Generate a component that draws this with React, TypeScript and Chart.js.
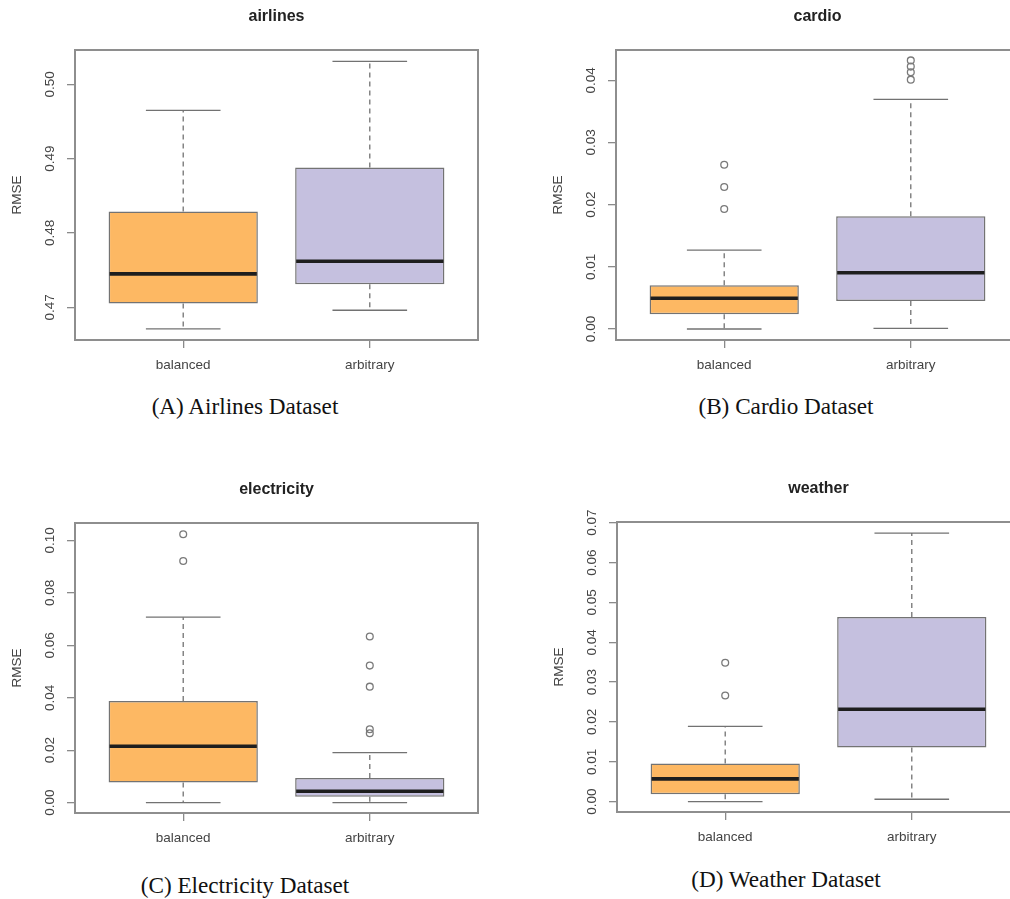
import React, { useEffect, useRef } from 'react';
import { Chart, registerables } from 'chart.js';

Chart.register(...registerables);

// Categories (x axis)
const groups = ['balanced', 'arbitrary'];

// Each stats array: [lower whisker, Q1, median, Q3, upper whisker]
const airlinesBalanced = [0.4671, 0.4705, 0.4745, 0.4829, 0.4965];
const airlinesArbitrary = [0.4696, 0.4731, 0.4762, 0.4888, 0.5031];
const airlinesOutBalanced: number[] = [];
const airlinesOutArbitrary: number[] = [];
const airlinesTicks = [0.47, 0.48, 0.49, 0.5];
const airlinesRange = [0.4656, 0.50462];

const cardioBalanced = [0.0, 0.00236, 0.00494, 0.00703, 0.0127];
const cardioArbitrary = [0.0001, 0.0045, 0.00905, 0.01812, 0.03693];
const cardioOutBalanced = [0.01929, 0.02283, 0.02642];
const cardioOutArbitrary = [0.0401, 0.0413, 0.0422, 0.0432];
const cardioTicks = [0.0, 0.01, 0.02, 0.03, 0.04];
const cardioRange = [-0.00177, 0.04487];

const electricityBalanced = [0.0, 0.00765, 0.02153, 0.03874, 0.07075];
const electricityArbitrary = [0.0, 0.0023, 0.00433, 0.00945, 0.01912];
const electricityOutBalanced = [0.09216, 0.10237];
const electricityOutArbitrary = [0.0265, 0.028, 0.04425, 0.05228, 0.06337];
const electricityTicks = [0.0, 0.02, 0.04, 0.06, 0.08, 0.1];
const electricityRange = [-0.00394, 0.10666];

const weatherBalanced = [0.0, 0.00186, 0.00572, 0.00957, 0.01889];
const weatherArbitrary = [0.0006, 0.0136, 0.02317, 0.04634, 0.06741];
const weatherOutBalanced = [0.02662, 0.03485];
const weatherOutArbitrary: number[] = [];
const weatherTicks = [0.0, 0.01, 0.02, 0.03, 0.04, 0.05, 0.06, 0.07];
const weatherRange = [-0.0026, 0.07018];

const ORANGE = '#FDB863';
const PURPLE = '#C5C0DF';
const SANS = "'Liberation Sans', Arial, Helvetica, sans-serif";
const SERIF = "'Liberation Serif', 'Times New Roman', serif";

type PanelProps = {
  title: string;
  stats: number[][];
  outliers: number[][];
  ticks: number[];
  range: number[];
  left: number;
  top: number;
};

function makePlugin(stats: number[][]) {
  return {
    id: 'boxWhiskers',
    afterDatasetsDraw(chart: any) {
      const { ctx } = chart;
      const x = chart.scales.x;
      const y = chart.scales.y;
      const line = (x1: number, y1: number, x2: number, y2: number) => {
        ctx.beginPath();
        ctx.moveTo(x1, y1);
        ctx.lineTo(x2, y2);
        ctx.stroke();
      };
      ctx.save();
      stats.forEach((s, i) => {
        const c = i + 1;
        const cx = x.getPixelForValue(c);
        const capL = x.getPixelForValue(c - 0.2);
        const capR = x.getPixelForValue(c + 0.2);
        const bL = x.getPixelForValue(c - 0.4);
        const bR = x.getPixelForValue(c + 0.4);
        ctx.strokeStyle = '#727272';
        ctx.lineWidth = 1.3;
        ctx.setLineDash([5, 4]);
        line(cx, y.getPixelForValue(s[3]), cx, y.getPixelForValue(s[4]));
        line(cx, y.getPixelForValue(s[1]), cx, y.getPixelForValue(s[0]));
        ctx.setLineDash([]);
        line(capL, y.getPixelForValue(s[4]), capR, y.getPixelForValue(s[4]));
        line(capL, y.getPixelForValue(s[0]), capR, y.getPixelForValue(s[0]));
        ctx.strokeStyle = '#1e1e1e';
        ctx.lineWidth = 3.6;
        line(bL + 1, y.getPixelForValue(s[2]), bR - 1, y.getPixelForValue(s[2]));
      });
      ctx.restore();
    },
    afterDraw(chart: any) {
      const { ctx, chartArea } = chart;
      ctx.save();
      ctx.strokeStyle = '#8e8e8e';
      ctx.lineWidth = 2;
      ctx.strokeRect(chartArea.left, chartArea.top, chartArea.right - chartArea.left, chartArea.bottom - chartArea.top);
      ctx.restore();
    },
  };
}

function Panel({ title, stats, outliers, ticks, range, left, top }: PanelProps) {
  const ref = useRef<HTMLCanvasElement | null>(null);
  useEffect(() => {
    if (!ref.current) return;
    const boxData = stats.map((s, i) => ({ x: i + 1, y: [s[1], s[3]] }));
    const outData: { x: number; y: number }[] = [];
    outliers.forEach((arr, i) => arr.forEach((v) => outData.push({ x: i + 1, y: v })));
    const chart = new Chart(ref.current, {
      type: 'bar',
      data: {
        datasets: [
          {
            type: 'bar',
            data: boxData as any,
            backgroundColor: [ORANGE, PURPLE],
            borderColor: '#737373',
            borderWidth: 1.5,
            borderSkipped: false,
            categoryPercentage: 0.8,
            barPercentage: 1,
            order: 2,
          } as any,
          {
            type: 'scatter',
            data: outData as any,
            pointStyle: 'circle',
            pointRadius: 3.4,
            borderColor: '#7a7a7a',
            borderWidth: 1.3,
            backgroundColor: 'rgba(0,0,0,0)',
            order: 1,
          } as any,
        ],
      },
      options: {
        animation: false,
        responsive: false,
        maintainAspectRatio: false,
        layout: { padding: { left: 0, right: 27, top: 0, bottom: 0 } },
        plugins: {
          legend: { display: false },
          tooltip: { enabled: false },
          title: {
            display: true,
            text: title,
            fullSize: false,
            color: '#222',
            font: { family: SANS, size: 16, weight: 'bold' },
            padding: { top: 7.4, bottom: 23.4 },
          } as any,
        },
        scales: {
          x: {
            type: 'linear',
            min: 0.42,
            max: 2.58,
            offset: false,
            afterBuildTicks: (s: any) => {
              s.ticks = groups.map((_, i) => ({ value: i + 1 }));
            },
            afterFit: (s: any) => {
              s.height = 40;
            },
            ticks: {
              callback: (v: any) => groups[Math.round(Number(v)) - 1] ?? '',
              color: '#444',
              font: { family: SANS, size: 13.5 },
              padding: 9,
              maxRotation: 0,
              minRotation: 0,
              autoSkip: false,
            },
            grid: { display: true, drawOnChartArea: false, drawTicks: true, tickLength: 8, color: '#8a8a8a', lineWidth: 1.3, offset: false },
            border: { display: false },
          } as any,
          y: {
            type: 'linear',
            min: range[0],
            max: range[1],
            afterBuildTicks: (s: any) => {
              s.ticks = ticks.map((v) => ({ value: v }));
            },
            afterFit: (s: any) => {
              s.width = 75;
            },
            ticks: {
              callback: (v: any) => Number(v).toFixed(2),
              color: '#444',
              font: { family: SANS, size: 13.5 },
              minRotation: 90,
              maxRotation: 90,
              crossAlign: 'center',
              padding: 4,
              autoSkip: false,
            },
            title: {
              display: true,
              text: 'RMSE',
              color: '#444',
              font: { family: SANS, size: 13.5 },
              padding: { top: 9, bottom: 0 },
            },
            grid: { display: true, drawOnChartArea: false, drawTicks: true, tickLength: 8, color: '#8a8a8a', lineWidth: 1.3 },
            border: { display: false },
          } as any,
        },
      },
      plugins: [makePlugin(stats)],
    });
    return () => chart.destroy();
  }, []);
  return (
    <canvas
      ref={ref}
      width={505}
      height={380}
      style={{ position: 'absolute', left, top, width: 505, height: 380 }}
    />
  );
}

function Caption({ text, cx, cy }: { text: string; cx: number; cy: number }) {
  return (
    <div
      style={{
        position: 'absolute',
        left: cx - 200,
        top: cy - 13,
        width: 400,
        height: 26,
        lineHeight: '26px',
        textAlign: 'center',
        fontFamily: SERIF,
        fontSize: 23.2,
        color: '#111',
        whiteSpace: 'nowrap',
      }}
    >
      {text}
    </div>
  );
}

export default function App() {
  return (
    <div style={{ position: 'absolute', left: 0, top: 0, width: 1010, height: 899, overflow: 'hidden', background: '#fff' }}>
      <Panel
        title="airlines"
        stats={[airlinesBalanced, airlinesArbitrary]}
        outliers={[airlinesOutBalanced, airlinesOutArbitrary]}
        ticks={airlinesTicks}
        range={airlinesRange}
        left={0}
        top={0}
      />
      <Panel
        title="cardio"
        stats={[cardioBalanced, cardioArbitrary]}
        outliers={[cardioOutBalanced, cardioOutArbitrary]}
        ticks={cardioTicks}
        range={cardioRange}
        left={541}
        top={0}
      />
      <Panel
        title="electricity"
        stats={[electricityBalanced, electricityArbitrary]}
        outliers={[electricityOutBalanced, electricityOutArbitrary]}
        ticks={electricityTicks}
        range={electricityRange}
        left={0}
        top={473}
      />
      <Panel
        title="weather"
        stats={[weatherBalanced, weatherArbitrary]}
        outliers={[weatherOutBalanced, weatherOutArbitrary]}
        ticks={weatherTicks}
        range={weatherRange}
        left={542}
        top={472}
      />
      <Caption text="(A) Airlines Dataset" cx={245} cy={406} />
      <Caption text="(B) Cardio Dataset" cx={786} cy={406} />
      <Caption text="(C) Electricity Dataset" cx={245} cy={885} />
      <Caption text="(D) Weather Dataset" cx={786} cy={879} />
    </div>
  );
}
